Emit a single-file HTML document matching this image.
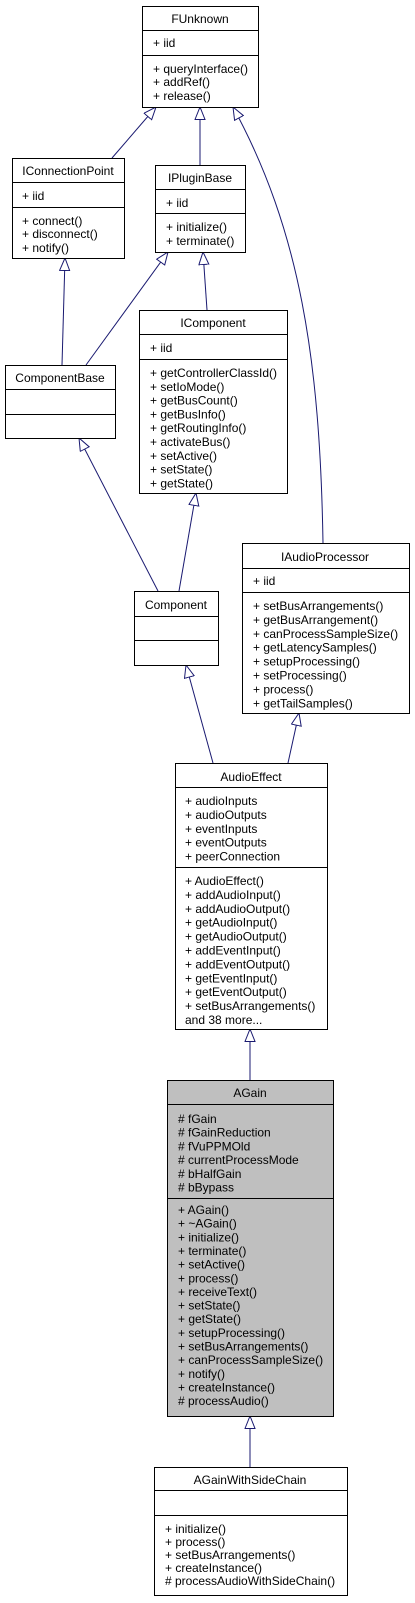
<!DOCTYPE html>
<html><head><meta charset="utf-8"><style>
html,body{margin:0;padding:0;background:#fff;}
svg{display:block;}
text{font-family:"Liberation Sans",Arial,sans-serif;font-size:12px;fill:#000;}
.t{text-anchor:middle;}
rect{stroke:#000;stroke-width:1;}
.l{stroke:#000;stroke-width:1;}
.e{fill:none;stroke:#191970;stroke-width:1;marker-end:url(#a);}
</style></head><body>
<svg width="415" height="1603" viewBox="0 0 415 1603" xmlns="http://www.w3.org/2000/svg">
<defs><marker id="a" markerUnits="userSpaceOnUse" markerWidth="14" markerHeight="12" refX="13" refY="5.5" orient="auto"><path d="M0.5,0.5 L13,5.5 L0.5,10.5 z" fill="#fff" stroke="#191970" stroke-width="1"/></marker></defs>

<!-- edges -->
<path class="e" d="M112,158 L156,107"/>
<path class="e" d="M200,165 L200,107"/>
<path class="e" d="M323,543 C320,360 300,230 233,107"/>
<path class="e" d="M62,365 L65,258"/>
<path class="e" d="M86,365 L168,252"/>
<path class="e" d="M207,310 L203,252"/>
<path class="e" d="M158,591 L79,438"/>
<path class="e" d="M179,591 L196,493"/>
<path class="e" d="M213,763 L186,665"/>
<path class="e" d="M288,763 L299,713"/>
<path class="e" d="M250,1080 L250,1029"/>
<path class="e" d="M250,1467 L250,1416"/>

<!-- FUnknown -->
<rect x="142.5" y="6.5" width="116" height="101" fill="#fff"/>
<line class="l" x1="142" y1="30.5" x2="258" y2="30.5"/><line class="l" x1="142" y1="55.5" x2="258" y2="55.5"/>
<text class="t" x="200" y="23">FUnknown</text>
<text x="153" y="47">+ iid</text>
<text x="153" y="73">+ queryInterface()</text><text x="153" y="86">+ addRef()</text><text x="153" y="100">+ release()</text>

<!-- IConnectionPoint -->
<rect x="12.5" y="158.5" width="112" height="100" fill="#fff"/>
<line class="l" x1="12" y1="182.5" x2="124" y2="182.5"/><line class="l" x1="12" y1="207.5" x2="124" y2="207.5"/>
<text class="t" x="68" y="175">IConnectionPoint</text>
<text x="22" y="200">+ iid</text>
<text x="22" y="225">+ connect()</text><text x="22" y="238">+ disconnect()</text><text x="22" y="252">+ notify()</text>

<!-- IPluginBase -->
<rect x="155.5" y="165.5" width="90" height="87" fill="#fff"/>
<line class="l" x1="155" y1="189.5" x2="245" y2="189.5"/><line class="l" x1="155" y1="213.5" x2="245" y2="213.5"/>
<text class="t" x="200" y="182">IPluginBase</text>
<text x="166" y="207">+ iid</text>
<text x="166" y="231">+ initialize()</text><text x="166" y="245">+ terminate()</text>

<!-- IComponent -->
<rect x="139.5" y="310.5" width="148" height="183" fill="#fff"/>
<line class="l" x1="139" y1="334.5" x2="287" y2="334.5"/><line class="l" x1="139" y1="359.5" x2="287" y2="359.5"/>
<text class="t" x="213" y="327">IComponent</text>
<text x="150" y="352">+ iid</text>
<text x="150" y="377">+ getControllerClassId()</text>
<text x="150" y="390.8">+ setIoMode()</text>
<text x="150" y="404.6">+ getBusCount()</text>
<text x="150" y="418.4">+ getBusInfo()</text>
<text x="150" y="432.2">+ getRoutingInfo()</text>
<text x="150" y="446">+ activateBus()</text>
<text x="150" y="459.8">+ setActive()</text>
<text x="150" y="473.6">+ setState()</text>
<text x="150" y="487.4">+ getState()</text>

<!-- ComponentBase -->
<rect x="5.5" y="365.5" width="110" height="73" fill="#fff"/>
<line class="l" x1="5" y1="389.5" x2="115" y2="389.5"/><line class="l" x1="5" y1="414.5" x2="115" y2="414.5"/>
<text class="t" x="60" y="382">ComponentBase</text>

<!-- Component -->
<rect x="134.5" y="591.5" width="84" height="74" fill="#fff"/>
<line class="l" x1="134" y1="616.5" x2="218" y2="616.5"/><line class="l" x1="134" y1="640.5" x2="218" y2="640.5"/>
<text class="t" x="176" y="609">Component</text>

<!-- IAudioProcessor -->
<rect x="242.5" y="543.5" width="167" height="170" fill="#fff"/>
<line class="l" x1="242" y1="568.5" x2="409" y2="568.5"/><line class="l" x1="242" y1="592.5" x2="409" y2="592.5"/>
<text class="t" x="325" y="561">IAudioProcessor</text>
<text x="253" y="585">+ iid</text>
<text x="253" y="610">+ setBusArrangements()</text>
<text x="253" y="623.9">+ getBusArrangement()</text>
<text x="253" y="637.8">+ canProcessSampleSize()</text>
<text x="253" y="651.7">+ getLatencySamples()</text>
<text x="253" y="665.6">+ setupProcessing()</text>
<text x="253" y="679.5">+ setProcessing()</text>
<text x="253" y="693.4">+ process()</text>
<text x="253" y="707.3">+ getTailSamples()</text>

<!-- AudioEffect -->
<rect x="175.5" y="763.5" width="152" height="266" fill="#fff"/>
<line class="l" x1="175" y1="787.5" x2="327" y2="787.5"/><line class="l" x1="175" y1="867.5" x2="327" y2="867.5"/>
<text class="t" x="251" y="781">AudioEffect</text>
<text x="185" y="805">+ audioInputs</text>
<text x="185" y="818.9">+ audioOutputs</text>
<text x="185" y="832.8">+ eventInputs</text>
<text x="185" y="846.7">+ eventOutputs</text>
<text x="185" y="860.6">+ peerConnection</text>
<text x="185" y="885">+ AudioEffect()</text>
<text x="185" y="898.9">+ addAudioInput()</text>
<text x="185" y="912.8">+ addAudioOutput()</text>
<text x="185" y="926.7">+ getAudioInput()</text>
<text x="185" y="940.6">+ getAudioOutput()</text>
<text x="185" y="954.5">+ addEventInput()</text>
<text x="185" y="968.4">+ addEventOutput()</text>
<text x="185" y="982.3">+ getEventInput()</text>
<text x="185" y="996.2">+ getEventOutput()</text>
<text x="185" y="1010.1">+ setBusArrangements()</text>
<text x="185" y="1024">and 38 more...</text>

<!-- AGain -->
<rect x="167.5" y="1080.5" width="166" height="336" fill="#bfbfbf"/>
<line class="l" x1="167" y1="1104.5" x2="333" y2="1104.5"/><line class="l" x1="167" y1="1198.5" x2="333" y2="1198.5"/>
<text class="t" x="250" y="1097">AGain</text>
<text x="178" y="1123"># fGain</text>
<text x="178" y="1136.7"># fGainReduction</text>
<text x="178" y="1150.4"># fVuPPMOld</text>
<text x="178" y="1164.1"># currentProcessMode</text>
<text x="178" y="1177.8"># bHalfGain</text>
<text x="178" y="1191.5"># bBypass</text>
<text x="178" y="1214">+ AGain()</text>
<text x="178" y="1227.65">+ ~AGain()</text>
<text x="178" y="1241.3">+ initialize()</text>
<text x="178" y="1254.95">+ terminate()</text>
<text x="178" y="1268.6">+ setActive()</text>
<text x="178" y="1282.25">+ process()</text>
<text x="178" y="1295.9">+ receiveText()</text>
<text x="178" y="1309.55">+ setState()</text>
<text x="178" y="1323.2">+ getState()</text>
<text x="178" y="1336.85">+ setupProcessing()</text>
<text x="178" y="1350.5">+ setBusArrangements()</text>
<text x="178" y="1364.15">+ canProcessSampleSize()</text>
<text x="178" y="1377.8">+ notify()</text>
<text x="178" y="1391.45">+ createInstance()</text>
<text x="178" y="1405.1"># processAudio()</text>

<!-- AGainWithSideChain -->
<rect x="154.5" y="1467.5" width="193" height="128" fill="#fff"/>
<line class="l" x1="154" y1="1490.5" x2="347" y2="1490.5"/><line class="l" x1="154" y1="1515.5" x2="347" y2="1515.5"/>
<text class="t" x="250" y="1484">AGainWithSideChain</text>
<text x="165" y="1533">+ initialize()</text>
<text x="165" y="1546">+ process()</text>
<text x="165" y="1559">+ setBusArrangements()</text>
<text x="165" y="1572">+ createInstance()</text>
<text x="165" y="1585"># processAudioWithSideChain()</text>
</svg>
</body></html>
